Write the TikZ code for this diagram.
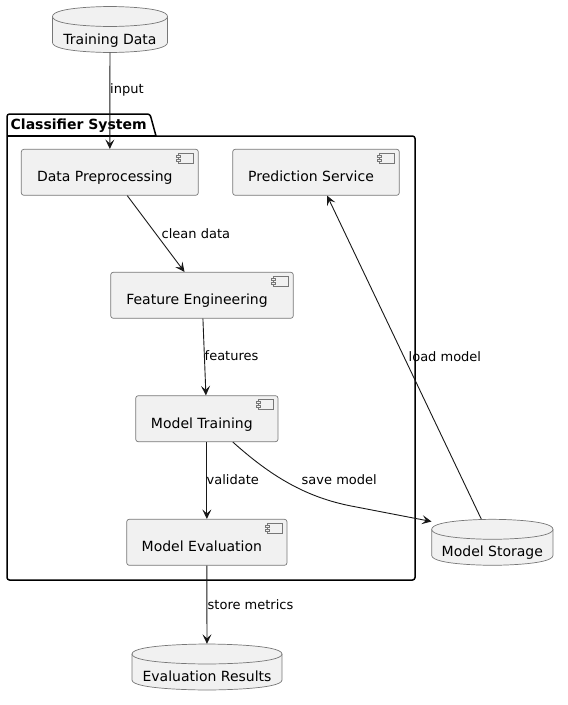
\documentclass[tikz,border=0pt]{standalone}
\usepackage{fontspec}
\setmainfont{DejaVu Sans}
\usetikzlibrary{arrows.meta,calc}
\definecolor{boxfill}{HTML}{F1F1F1}
\definecolor{lineclr}{HTML}{181818}
\definecolor{borderclr}{HTML}{777777}
\newcommand\dbshape[4]{%
  \pgfmathsetmacro\dbxm{(#1+#3)/2}%
  \filldraw[dbline] (#1,#2+10) .. controls (#1,#2) and (\dbxm,#2) .. (\dbxm,#2)
    .. controls (\dbxm,#2) and (#3,#2) .. (#3,#2+10) -- (#3,#4-10)
    .. controls (#3,#4) and (\dbxm,#4) .. (\dbxm,#4)
    .. controls (\dbxm,#4) and (#1,#4) .. (#1,#4-10) -- cycle;
  \draw[dbline] (#1,#2+10) .. controls (#1,#2+20) and (\dbxm,#2+20) .. (\dbxm,#2+20)
    .. controls (\dbxm,#2+20) and (#3,#2+20) .. (#3,#2+10);
}
\newcommand\compicon[1]{%
  \draw[iconline] ($(#1.north east)+(-20,4)$) rectangle ($(#1.north east)+(-5,14)$);
  \filldraw[iconline] ($(#1.north east)+(-22,6)$) rectangle +(4,2);
  \filldraw[iconline] ($(#1.north east)+(-22,10)$) rectangle +(4,2);
}
\begin{document}
\begin{tikzpicture}[x=1pt,y=-1pt,
  comp/.style={draw=borderclr, fill=boxfill, line width=0.7pt, rounded corners=2.5pt,
    inner sep=0pt, minimum height=46pt, font=\fontsize{14}{16}\selectfont,
    text height=19pt, text depth=0pt},
  dbnode/.style={draw=none, inner sep=0pt, minimum height=46pt,
    font=\fontsize{14}{16}\selectfont, text height=29pt, text depth=0pt},
  dbline/.style={draw=borderclr, fill=boxfill, line width=0.7pt},
  iconline/.style={draw=borderclr, fill=boxfill, line width=0.6pt},
  pkg/.style={draw=black, line width=1.5pt, line join=round},
  pkgtitle/.style={inner sep=0pt, font=\fontsize{14}{16}\selectfont\bfseries},
  lbl/.style={inner sep=0pt, anchor=west, font=\fontsize{13}{15}\selectfont,
    text height=9.5pt, text depth=3pt},
  conn/.style={draw=lineclr, line width=0.9pt,
    -{Stealth[length=9.5pt, width=9pt, inset=4pt]}}
]
\useasboundingbox (0,0) rectangle (568,705);

% package
\draw[pkg] (7,580) [rounded corners=2.5pt] -- (7,114) -- (150,114) [sharp corners] -- (156,136)
  [rounded corners=2.5pt] -- (415,136) -- (415,580) -- cycle;
\draw[pkg] (7,136) -- (156,136);
\node[pkgtitle, anchor=base west] (pkgt) at (10.5,129.5) {Classifier System};

% databases
\dbshape{52.5}{6.5}{167.5}{52.5}
\node[dbnode, minimum width=115pt] (td) at (110,29.5) {Training Data};
\dbshape{431.7}{519.3}{553}{565.3}
\node[dbnode, minimum width=121.3pt] (ms) at (492.35,542.3) {Model Storage};
\dbshape{132}{644}{282}{690}
\node[dbnode, minimum width=150pt] (er) at (207,667) {Evaluation Results};

% components
\node[comp, minimum width=177pt] (dp) at (109.8,172.3) {Data Preprocessing\hspace*{10pt}};
\node[comp, minimum width=166.6pt] (ps) at (316,172.3) {Prediction Service\hspace*{10pt}};
\node[comp, minimum width=182.6pt] (fe) at (202,295.3) {Feature Engineering\hspace*{10pt}};
\node[comp, minimum width=142.3pt] (mt) at (206.85,418.7) {Model Training\hspace*{10pt}};
\node[comp, minimum width=160.3pt] (me) at (206.85,542.3) {Model Evaluation\hspace*{10pt}};
\compicon{dp}
\compicon{ps}
\compicon{fe}
\compicon{mt}
\compicon{me}

% connectors
\draw[conn] (td) -- (dp);
\draw[conn] (dp) -- (fe);
\draw[conn] (fe) -- (mt);
\draw[conn] (mt) -- (me);
\draw[conn] (me) -- (er);
\draw[conn] (ms) -- (ps);
\draw[conn] ($(mt.south)+(26,0)$) .. controls ($(mt.south)+(63.15,33.3)$) and ($(mt.south)+(98.15,55.3)$)
  .. ($(mt.south)+(146.15,64.3)$) -- ($(ms.north west)+(0,2.4)$);

% labels
\node[lbl] (l1) at (110,90.3) {input};
\node[lbl] (l2) at (161.5,235) {clean data};
\node[lbl] (l3) at (204.5,357.7) {features};
\node[lbl] (l4) at (206.5,481) {validate};
\node[lbl] (l5) at (301.5,481.3) {save model};
\node[lbl] (l6) at (408.5,358.3) {load model};
\node[lbl] (l7) at (207.5,606.7) {store metrics};
\end{tikzpicture}
\end{document}
